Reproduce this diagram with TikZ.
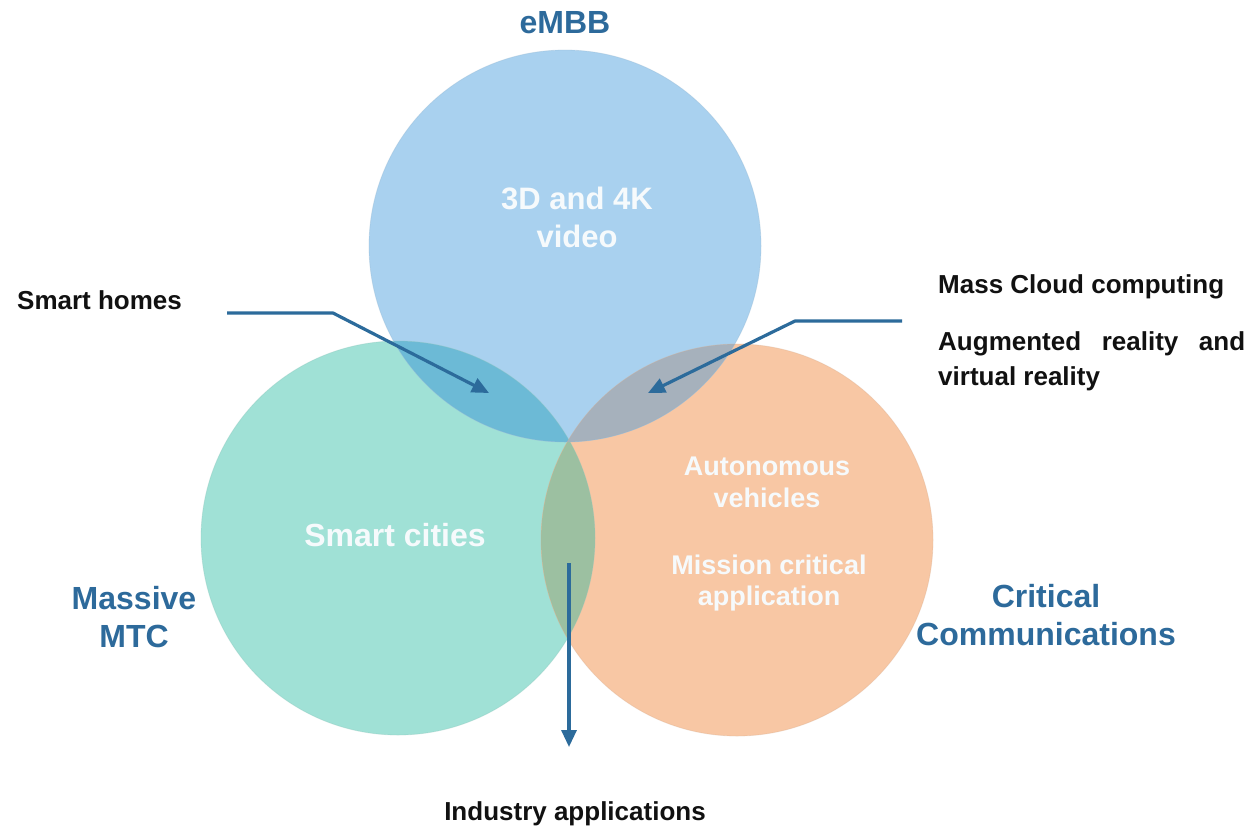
\documentclass[tikz,border=0pt]{standalone}
\usepackage{fontspec}
\setmainfont{Liberation Sans}
\usetikzlibrary{arrows.meta}
\definecolor{blueC}{HTML}{A9D1EF}
\definecolor{greenC}{HTML}{A0E1D6}
\definecolor{orangeC}{HTML}{F8C7A4}
\definecolor{bgOv}{HTML}{6CBAD6}
\definecolor{boOv}{HTML}{A6B1BC}
\definecolor{goOv}{HTML}{9CC0A1}
\definecolor{labBlue}{HTML}{2D6A9B}
\definecolor{arrBlue}{HTML}{2C6B9B}
\definecolor{txtBlack}{HTML}{111111}
\definecolor{txtWhite}{HTML}{F6FAFC}
\tikzset{
  biglabel/.style={inner sep=0pt, anchor=base, align=center, text=labBlue,
    font=\bfseries\fontsize{32}{38}\selectfont},
  blacklabel/.style={inner sep=0pt, text=txtBlack,
    font=\bfseries\fontsize{26}{35}\selectfont},
  whitelabel/.style={inner sep=0pt, anchor=base, align=center, text=txtWhite},
  connector/.style={draw=arrBlue, line width=3.2pt, line join=round,
    -{Triangle[length=17pt,width=15pt]}},
}
\begin{document}
\begin{tikzpicture}[x=1pt,y=-1pt]
\useasboundingbox[fill=white] (0,0) rectangle (1252,831);
% circle centres
\coordinate (B) at (565,246);
\coordinate (G) at (398,538);
\coordinate (O) at (737,540);
% base circles
\fill[greenC] (G) circle[radius=197pt];
\fill[orangeC] (O) circle[radius=196pt];
\fill[blueC] (B) circle[radius=196pt];
% overlaps
\begin{scope}
  \clip (G) circle[radius=197pt];
  \fill[goOv] (O) circle[radius=196pt];
\end{scope}
\begin{scope}
  \clip (B) circle[radius=196pt];
  \fill[bgOv] (G) circle[radius=197pt];
\end{scope}
\begin{scope}
  \clip (B) circle[radius=196pt];
  \fill[boOv] (O) circle[radius=196pt];
\end{scope}
% subtle outlines
\draw[blueC!88!black, line width=0.8pt, opacity=0.35] (B) circle[radius=196pt];
\draw[greenC!88!black, line width=0.8pt, opacity=0.35] (G) circle[radius=197pt];
\draw[orangeC!88!black, line width=0.8pt, opacity=0.35] (O) circle[radius=196pt];

% category labels (anchor = baseline of last line)
\node[biglabel] (embb) at (565,33) {eMBB};
\node[biglabel] (mmtc) at (134,647) {Massive\\MTC};
\node[biglabel] (crit) at (1046,645) {Critical\\Communications};

% texts inside circles
\node[whitelabel, font=\bfseries\fontsize{31}{38}\selectfont] (video) at (577,247) {3D and 4K\\video};
\node[whitelabel, font=\bfseries\fontsize{32}{38}\selectfont] (cities) at (395,546) {Smart cities};
\node[whitelabel, font=\bfseries\fontsize{27}{32}\selectfont] (auto) at (767,507) {Autonomous\\vehicles};
\node[whitelabel, font=\bfseries\fontsize{27}{31}\selectfont] (mission) at (769,605) {Mission critical\\application};

% outside labels
\node[blacklabel, anchor=base west] (homes) at (17,309) {Smart homes};
\node[blacklabel, anchor=base west] (cloud) at (938,293) {Mass Cloud computing};
\node[blacklabel, anchor=base west, align=left] (ar) at (938,385)
  {\makebox[307pt][s]{Augmented reality and}\\virtual reality};
\node[blacklabel, anchor=base] (industry) at (575,820) {Industry applications};

% connector coordinates
\coordinate (hs) at (227,313);
\coordinate (hb) at (333,313);
\coordinate (ht) at (489,393);
\coordinate (cs) at (902,321);
\coordinate (cb) at (795,321);
\coordinate (ct) at (648,393);
\coordinate (ds) at (569,563);
\coordinate (dt) at (569,747);

\draw[connector] (hs) -- (hb) -- (ht);
\draw[connector] (cs) -- (cb) -- (ct);
\draw[connector] (ds) -- (dt);
\end{tikzpicture}
\end{document}
